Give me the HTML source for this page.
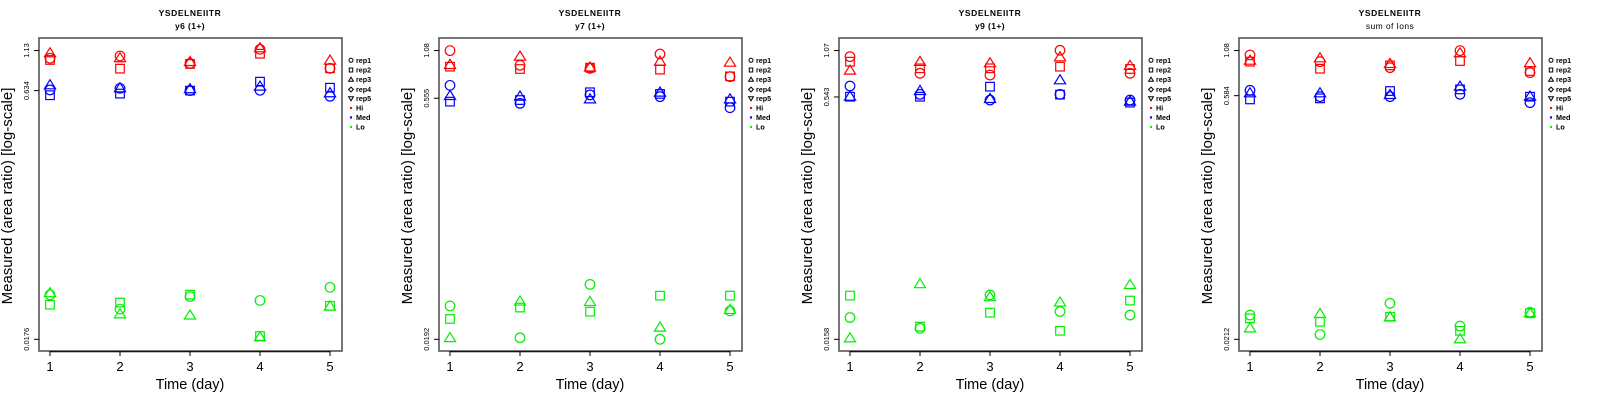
<!DOCTYPE html>
<html><head><meta charset="utf-8"><style>
html,body{margin:0;padding:0;background:#fff;}
svg{display:block;font-family:"Liberation Sans",sans-serif;}
</style></head><body>
<svg id="chart" width="1600" height="400" viewBox="0 0 1600 400"></svg>
<script>
// ---- data ----
const days = [1, 2, 3, 4, 5];
const panelTitles = ["YSDELNEIITR", "YSDELNEIITR", "YSDELNEIITR", "YSDELNEIITR"];
const panelSubtitles = ["y6 (1+)", "y7 (1+)", "y9 (1+)", "sum of Ions"];
const yTop = [1.13, 1.08, 1.07, 1.08];
const yMid = [0.634, 0.555, 0.543, 0.584];
const yBottom = [0.0176, 0.0192, 0.0158, 0.0212];
const groups = ["Hi", "Med", "Lo"];
const groupColors = ["#ff0000", "#0000ff", "#00ee00"];
const reps = ["rep1", "rep2", "rep3", "rep4", "rep5"];
// values[panel][group][day] = [rep1 (circle), rep2 (square), rep3 (triangle)]
const p1Hi  = [[1.01,0.986,1.085],[1.044,0.870,1.01],[0.939,0.931,0.957],[1.149,1.079,1.166],[0.874,0.874,0.976]];
const p1Med = [[0.640,0.593,0.684],[0.655,0.607,0.655],[0.634,0.634,0.646],[0.637,0.721,0.671],[0.584,0.661,0.610]];
const p1Lo  = [[0.0334,0.0290,0.0342],[0.0272,0.0299,0.0252],[0.0326,0.0335,0.0248],[0.0308,0.01845,0.0181],[0.0372,0.0285,0.0282]];
const p2Hi  = [[1.078,0.862,0.882],[0.878,0.834,0.991],[0.842,0.850,0.852],[1.028,0.827,0.924],[0.750,0.753,0.911]];
const p2Med = [[0.664,0.529,0.572],[0.516,0.541,0.567],[0.581,0.603,0.546],[0.567,0.589,0.600],[0.486,0.529,0.546]];
const p2Lo  = [[0.0306,0.0255,0.0195],[0.0196,0.0299,0.0325],[0.0413,0.0282,0.0323],[0.0192,0.0353,0.0226],[0.0285,0.0353,0.0289]];
const p3Hi  = [[0.978,0.909,0.797],[0.767,0.825,0.905],[0.748,0.825,0.887],[1.073,0.845,0.968],[0.767,0.817,0.854]];
const p3Med = [[0.637,0.545,0.545],[0.564,0.545,0.592],[0.519,0.631,0.527],[0.564,0.562,0.692],[0.519,0.500,0.507]];
const p3Lo  = [[0.0217,0.0299,0.0160],[0.01855,0.0190,0.0353],[0.0302,0.0233,0.0292],[0.0237,0.0179,0.0270],[0.0225,0.0278,0.0349]];
const p4Hi  = [[1.016,0.928,0.940],[0.928,0.843,0.971],[0.855,0.882,0.899],[1.078,0.936,1.039],[0.799,0.817,0.907]];
const p4Med = [[0.628,0.555,0.603],[0.576,0.563,0.603],[0.576,0.622,0.589],[0.595,0.636,0.660],[0.531,0.576,0.576]];
const p4Lo  = [[0.0295,0.0282,0.0246],[0.0226,0.0269,0.0299],[0.0346,0.0288,0.0286],[0.0254,0.0238,0.0212],[0.0306,0.0302,0.0302]];
const values = [[p1Hi,p1Med,p1Lo],[p2Hi,p2Med,p2Lo],[p3Hi,p3Med,p3Lo],[p4Hi,p4Med,p4Lo]];

// ---- drawing ----
const NS = "http://www.w3.org/2000/svg";
const svg = document.getElementById("chart");
function mk(tag, attrs, parent) {
  const e = document.createElementNS(NS, tag);
  for (const k in attrs) e.setAttribute(k, attrs[k]);
  parent.appendChild(e);
  return e;
}
const box = {x0: 39, x1: 342, y0: 38, y1: 351};
const tickTopY = 50.5, tickBotY = 339.3;
const dayX0 = 50, dayStep = 70;

function drawMarker(g, shape, cx, cy, color) {
  let m;
  if (shape === 0) {
    m = mk("circle", {cx: cx, cy: cy, r: 4.8, fill: "none", stroke: color, "stroke-width": 1.2}, g);
  } else if (shape === 1) {
    m = mk("rect", {x: cx - 4.3, y: cy - 4.3, width: 8.6, height: 8.6, fill: "none", stroke: color, "stroke-width": 1.2}, g);
  } else {
    const h = 5.6;
    m = mk("polygon", {points: `${cx},${cy - h} ${cx - 5.6},${cy + h * 0.62} ${cx + 5.6},${cy + h * 0.62}`, fill: "none", stroke: color, "stroke-width": 1.2}, g);
  }
  return m;
}

for (let p = 0; p < 4; p++) {
  const ox = p * 400;
  const panel = mk("g", {transform: `translate(${ox},0)`}, svg);
  
  
  const lt = Math.log10(yTop[p]), lb = Math.log10(yBottom[p]);
  const yScale = v => tickTopY + (lt - Math.log10(v)) / (lt - lb) * (tickBotY - tickTopY);
  const xScale = d => dayX0 + (d - 1) * dayStep;

  const t1 = mk("text", {x: 190, y: 16, "text-anchor": "middle", "font-size": 8.5, "font-weight": "bold", "letter-spacing": "0.6"}, panel);
  t1.textContent = panelTitles[p];
  
  
  const t2 = mk("text", {x: 190, y: 29, "text-anchor": "middle", "font-size": 8.5, "font-weight": p === 3 ? "normal" : "bold", "letter-spacing": "0.4"}, panel);
  t2.textContent = panelSubtitles[p];
  
  

  const frame = mk("rect", {x: box.x0, y: box.y0, width: box.x1 - box.x0, height: box.y1 - box.y0, fill: "none", stroke: "#555", "stroke-width": 1.6}, panel);
  
  

  // y ticks
  const yTicks = [yTop[p], yMid[p], yBottom[p]];
  yTicks.forEach(v => {
    const y = yScale(v);
    const tk = mk("line", {x1: box.x0 - 5, x2: box.x0, y1: y, y2: y, stroke: "#000", "stroke-width": 1}, panel);
    
    
    const lbl = mk("text", {x: 0, y: 0, transform: `translate(29,${y}) rotate(-90)`, "text-anchor": "middle", "font-size": 7.5}, panel);
    lbl.textContent = String(v);
    
    
  });
  const yt = mk("text", {x: 0, y: 0, transform: `translate(12,196) rotate(-90)`, "text-anchor": "middle", "font-size": 15}, panel);
  yt.textContent = "Measured (area ratio) [log-scale]";
  
  

  // x ticks
  const xl = mk("line", {x1: xScale(days[0]), x2: xScale(days[days.length - 1]), y1: box.y1 + 0.8, y2: box.y1 + 0.8, stroke: "#000", "stroke-width": 1}, panel);
  
  
  days.forEach(d => {
    const x = xScale(d);
    const tk = mk("line", {x1: x, x2: x, y1: box.y1, y2: box.y1 + 5, stroke: "#000", "stroke-width": 1}, panel);
    
    
    const lbl = mk("text", {x: x, y: 371, "text-anchor": "middle", "font-size": 13}, panel);
    lbl.textContent = String(d);
    
    
  });
  const xt = mk("text", {x: 190, y: 389, "text-anchor": "middle", "font-size": 14.5}, panel);
  xt.textContent = "Time (day)";
  
  

  // points
  for (let g = 0; g < groups.length; g++) {
    const gg = mk("g", {}, panel);
    
    
    for (let di = 0; di < days.length; di++) {
      const reps3 = values[p][g][di];
      for (let r = 0; r < reps3.length; r++) {
        const m = drawMarker(gg, r, xScale(days[di]), yScale(reps3[r]), groupColors[g]);
        
        
      }
    }
  }

  // legend
  const lg = mk("g", {}, panel);
  
  
  const rowY = [60.3, 70, 79.5, 89.5, 98.5, 108, 117.5, 127];
  const items = reps.concat(groups);
  items.forEach((name, i) => {
    const y = rowY[i];
    const sx = 351;
    if (i === 0) mk("circle", {cx: sx, cy: y, r: 2, fill: "none", stroke: "#000", "stroke-width": 1}, lg);
    else if (i === 1) mk("rect", {x: sx - 1.7, y: y - 2, width: 3.4, height: 4, fill: "none", stroke: "#000", "stroke-width": 1}, lg);
    else if (i === 2) mk("polygon", {points: `${sx},${y - 2.3} ${sx - 2.4},${y + 1.7} ${sx + 2.4},${y + 1.7}`, fill: "none", stroke: "#000", "stroke-width": 1}, lg);
    else if (i === 3) mk("polygon", {points: `${sx},${y - 2.4} ${sx + 2.4},${y} ${sx},${y + 2.4} ${sx - 2.4},${y}`, fill: "none", stroke: "#000", "stroke-width": 1}, lg);
    else if (i === 4) mk("polygon", {points: `${sx},${y + 2.3} ${sx - 2.4},${y - 1.7} ${sx + 2.4},${y - 1.7}`, fill: "none", stroke: "#000", "stroke-width": 1}, lg);
    else mk("circle", {cx: sx, cy: y, r: 1.2, fill: groupColors[i - 5]}, lg);
    const tx = mk("text", {x: 356, y: y + 2.6, "font-size": 7.2, "font-weight": "bold"}, lg);
    tx.textContent = name;
    
    
  });
}
</script>
</body></html>
